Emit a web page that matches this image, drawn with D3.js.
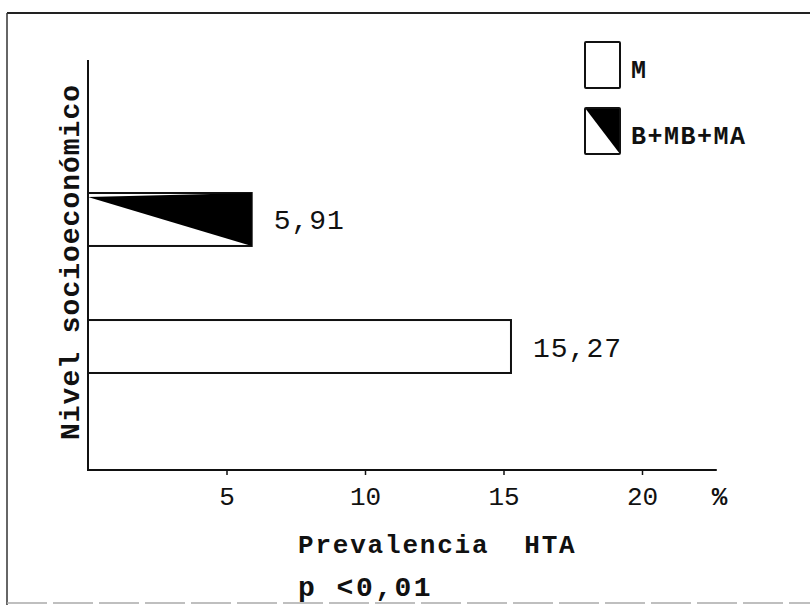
<!doctype html>
<html lang="es">
<head>
  <meta charset="utf-8">
  <title>Prevalencia HTA por nivel socioeconómico</title>
  <script src="https://d3js.org/d3.v7.min.js"></script>
  <style>
    html, body { margin: 0; padding: 0; background: #fff; }
    svg { display: block; }
    .mono { font-family: "Liberation Mono", "DejaVu Sans Mono", monospace; fill: #111; }
    .tick text { font-family: "Liberation Mono", monospace; font-size: 26px; fill: #111; }
    .tick line { stroke: #111; stroke-width: 1.5; }
  </style>
</head>
<body>
<div id="chart"></div>
<script>
  // data
  const categories = ["B+MB+MA", "M"];
  const values = [5.91, 15.27];
  const valueLabels = ["5,91", "15,27"];
  const patterns = ["diag", "blank"];
  const xTicks = [5, 10, 15, 20];
  const xAxisEnd = 22.7;
  const xTitle = "Prevalencia  HTA";
  const yTitle = "Nivel socioeconómico";
  const note = "p <0,01";
  const legendOrder = ["M", "B+MB+MA"];

  const width = 810, height = 605;
  const svg = d3.select('#chart').append('svg')
    .attr('width', width).attr('height', height);

  // page frame (scanned figure border)
  svg.append('line').attr('x1', 7).attr('x2', width).attr('y1', 13).attr('y2', 13)
    .attr('stroke', '#222').attr('stroke-width', 2);
  svg.append('line').attr('x1', 7).attr('x2', 7).attr('y1', 13).attr('y2', height)
    .attr('stroke', '#333').attr('stroke-width', 1.5);
  svg.append('line').attr('x1', 7).attr('x2', width).attr('y1', 603).attr('y2', 603)
    .attr('stroke', '#aaa').attr('stroke-width', 1.5).attr('stroke-dasharray', '40 6');

  const x = d3.scaleLinear().domain([0, 20]).range([88, 642]);
  const y = d3.scaleBand().domain(categories)
    .range([129.5, 436.5]).paddingInner(0.583).paddingOuter(0.5);

  const axisY = 470, axisTop = 60;

  // axes lines
  svg.append('line').attr('x1', x(0)).attr('x2', x(0)).attr('y1', axisTop).attr('y2', axisY)
    .attr('stroke', '#111').attr('stroke-width', 2);
  svg.append('line').attr('x1', x(0) - 1).attr('x2', x(xAxisEnd)).attr('y1', axisY).attr('y2', axisY)
    .attr('stroke', '#111').attr('stroke-width', 2);

  const xAxis = svg.append('g')
    .attr('transform', `translate(0,${axisY})`)
    .call(d3.axisBottom(x).tickValues(xTicks).tickSize(5).tickPadding(12).tickFormat(d3.format('d')));
  xAxis.select('.domain').remove();

  svg.append('text').attr('class', 'mono')
    .attr('x', x(22.8)).attr('y', axisY + 35)
    .attr('text-anchor', 'middle').attr('font-size', 26).attr('font-weight', 'bold')
    .text('%');

  // bars
  categories.forEach((c, i) => {
    const y0 = y(c), h = y.bandwidth(), x0 = x(0), x1 = x(values[i]);
    svg.append('rect')
      .attr('x', x0).attr('y', y0).attr('width', x1 - x0).attr('height', h)
      .attr('fill', '#fff').attr('stroke', '#111').attr('stroke-width', 2);
    if (patterns[i] === 'diag') {
      svg.append('path')
        .attr('d', `M${x0},${y0 + 4} L${x1},${y0} L${x1},${y0 + h} Z`)
        .attr('fill', '#000');
    }
    svg.append('text').attr('class', 'mono')
      .attr('x', x1 + 22).attr('y', y0 + h / 2 + 10)
      .attr('font-size', 28).attr('letter-spacing', 1)
      .text(valueLabels[i]);
  });

  // legend
  const legend = svg.append('g').attr('transform', 'translate(585,42)');
  legendOrder.forEach((c, i) => {
    const g = legend.append('g').attr('transform', `translate(0,${i * 66})`);
    const pat = patterns[categories.indexOf(c)];
    g.append('rect').attr('width', 35).attr('height', 46)
      .attr('fill', '#fff').attr('stroke', '#111').attr('stroke-width', 2).attr('rx', 1);
    if (pat === 'diag') {
      g.append('path').attr('d', 'M0,0 L35,0 L35,46 Z').attr('fill', '#000');
      g.select('rect').raise().attr('fill', 'none');
    }
    g.append('text').attr('class', 'mono')
      .attr('x', 46).attr('y', 36)
      .attr('font-size', 25).attr('font-weight', 'bold').attr('letter-spacing', 1.5)
      .text(c);
  });

  // titles
  svg.append('text').attr('class', 'mono')
    .attr('transform', 'rotate(-90)')
    .attr('x', -262).attr('y', 79)
    .attr('text-anchor', 'middle')
    .attr('font-size', 28).attr('font-weight', 'bold').attr('letter-spacing', 1)
    .text(yTitle);

  svg.append('text').attr('class', 'mono')
    .attr('x', 298).attr('y', 553)
    .attr('font-size', 26).attr('font-weight', 'bold').attr('letter-spacing', 1.8)
    .style('white-space', 'pre')
    .text(xTitle);

  svg.append('text').attr('class', 'mono')
    .attr('x', 298).attr('y', 596)
    .attr('font-size', 28).attr('font-weight', 'bold').attr('letter-spacing', 2.5)
    .text(note);
</script>
</body>
</html>
